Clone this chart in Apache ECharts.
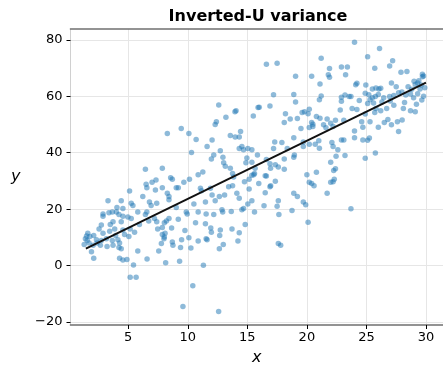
<!DOCTYPE html>
<html>
<head>
<meta charset="utf-8">
<script src="https://cdn.jsdelivr.net/npm/echarts@6/dist/echarts.min.js"></script>
<style>
  html, body { margin: 0; padding: 0; background: #ffffff; }
  #chart { width: 443px; height: 371px; }
</style>
</head>
<body>
<div id="chart"></div>
<script>
// Scatter sample: x positions
const xs = [
  12.6, 13.2, 13.96, 14.05, 15.5, 15.9, 12.3, 12.4, 9.45,
  16.6, 17.5, 21.2, 19.05, 20.4, 21.9, 22.9, 23.4, 23.25, 21.8, 21.9, 21.1, 17.2, 18.9, 21.2, 21.05, 19.05, 16.0, 16.9,
  22.9, 23.2, 22.9, 23.55, 22.8, 18.2, 19.6, 19.8, 20.1, 20.2, 18.6, 19.2, 18.1, 20.8, 21.1, 21.7, 22.4, 20.4, 20.5,
  20.2, 20.5, 21.4, 22.0, 22.2, 21.6, 19.5, 23.1,
  24.0, 26.1, 25.1, 27.2, 26.95, 25.7, 27.9, 28.4, 29.7, 29.8, 29.7, 27.1, 24.1, 24.2, 27.5, 28.5, 29.0, 29.1, 29.3,
  29.6, 29.4, 24.95, 25.5, 25.8, 26.05, 26.2, 23.7, 24.9, 25.2, 25.5, 25.3, 25.75, 26.0, 26.45, 26.95, 27.3, 27.7,
  27.98, 28.3, 28.7, 28.96, 29.3, 29.5, 29.65, 23.8, 24.2, 25.1, 25.6, 25.8, 26.2, 26.7, 27.3, 28.1, 28.7, 29.1,
  24.9, 25.7, 24.6, 25.3, 26.5, 26.8, 27.6, 28.0, 27.1, 26.0, 24.7,
  28.8, 29.9, 27.0, 28.2, 26.3, 29.8, 24.4, 29.2,
  24.0, 24.0, 24.7, 25.1, 25.25, 27.7, 25.75, 24.9, 23.7,
  17.3, 17.9, 18.9, 19.7, 19.7, 20.2, 20.7, 21.0, 21.05, 22.1, 22.2, 22.9, 23.1, 17.2, 18.35, 18.95, 18.9, 18.1,
  15.85, 16.6, 16.9, 16.95, 17.35, 17.6, 18.1, 15.6, 16.5, 16.6, 20.0, 20.8, 20.2, 20.4, 20.6, 22.45, 22.6, 23.2,
  22.0, 22.4, 22.25, 22.3, 22.2, 22.0, 16.96, 16.9, 17.35, 15.96, 16.5, 18.9, 19.2, 17.6, 17.5, 16.4, 18.75, 19.7,
  19.9, 17.65, 21.7, 15.6, 20.1,
  17.6, 17.8,
  8.28, 10.09, 10.7, 13.57, 13.98, 14.32, 14.43, 12.04, 11.62, 10.31, 12.73, 12.18, 11.98, 12.95, 13.01, 13.15,
  13.57, 13.76, 14.54, 14.32, 14.68, 15.04, 15.38, 14.96, 14.88, 15.38, 7.86, 10.14, 10.87, 11.26, 8.56, 8.70, 9.03,
  9.20, 9.67, 7.86, 8.28, 8.42, 8.42, 11.06, 11.15, 11.9, 12.04, 11.48, 12.3, 12.65, 13.09, 13.43, 13.76, 13.85,
  14.12, 14.32, 15.15, 15.38, 15.65, 15.15, 14.76, 15.54, 9.87, 9.95, 10.51, 10.87, 11.54, 12.18, 12.87, 12.93,
  13.65, 14.54, 14.68, 15.04, 15.38, 9.03, 9.2, 8.2, 8.42, 10.65, 11.48, 14.82, 7.86,
  7.86, 8.09, 8.0, 8.7, 8.75, 8.64, 9.76, 9.48, 9.39, 10.09, 10.26, 10.87, 11.54, 11.62, 11.93, 11.98, 12.73, 12.68,
  12.98, 12.65, 13.71, 14.32, 14.21, 8.14, 9.31, 11.31, 10.42, 9.59, 12.59,
  6.44, 6.5, 7.0, 7.33, 6.56, 5.11, 6.22, 7.28, 6.78, 6.92, 7.39, 5.25, 5.39, 4.41, 3.3, 4.05, 4.55, 4.0, 2.88,
  2.88, 3.38, 3.66, 4.22, 4.55, 4.97, 5.25, 5.8, 6.44, 6.56, 6.72, 7.2, 7.39, 4.41, 3.72, 3.49, 2.74, 5.94, 8.03,
  2.55, 2.88, 3.44, 3.86, 4.55, 5.16, 5.53, 1.77, 2.1, 1.55, 1.71, 2.33, 2.74, 3.16, 3.66, 3.94, 4.13, 4.27, 4.69,
  5.05, 3.72, 3.22, 4.22, 4.41, 2.66, 2.38, 2.05, 1.91, 2.1, 4.27, 4.55, 4.89, 5.8, 5.44, 5.16, 5.66, 6.58, 7.56,
  7.78, 8.03, 7.47, 1.4, 1.5, 1.3, 1.6
];

// Scatter sample: y values
const ys = [
  56.9, 52.6, 54.5, 54.9, 53.0, 56.0, 50.0, 51.0, 48.6,
  71.3, 71.7, 73.5, 67.1, 67.1, 69.8, 70.4, 70.4, 67.6, 67.6, 66.7, 64.3, 60.5, 60.6, 60.1, 58.8, 58.0, 56.1, 56.5,
  59.6, 60.4, 58.2, 59.9, 55.1, 53.8, 54.2, 54.5, 53.8, 55.4, 51.9, 52.1, 50.7, 52.8, 52.2, 51.9, 51.5, 50.7, 50.1,
  48.9, 49.3, 49.9, 50.4, 49.3, 48.8, 48.6, 51.5,
  79.1, 76.9, 74.0, 72.6, 70.7, 69.9, 68.5, 68.8, 67.8, 67.2, 66.9, 64.7, 64.1, 64.6, 63.4, 63.4, 65.3, 64.2, 64.7,
  64.0, 65.5, 64.0, 62.6, 62.96, 62.6, 62.85, 59.9, 61.1, 60.5, 59.5, 58.8, 59.9, 60.6, 59.5, 59.9, 60.3, 61.2,
  61.5, 60.4, 60.8, 59.5, 60.9, 62.6, 58.7, 55.7, 55.3, 57.4, 57.6, 55.7, 54.9, 55.7, 56.8, 55.7, 54.9, 54.5,
  53.7, 54.2, 51.0, 51.0, 50.7, 51.8, 51.0, 51.6, 49.9, 49.0, 49.0,
  62.5, 63.0, 58.3, 57.8, 58.0, 60.0, 58.5, 57.2,
  47.7, 45.3, 44.5, 44.4, 45.2, 47.5, 39.9, 38.0, 20.1,
  43.8, 43.6, 45.3, 43.8, 42.2, 43.0, 43.0, 44.2, 41.6, 43.6, 42.2, 44.5, 44.5, 41.5, 41.5, 39.2, 38.4, 37.8,
  39.2, 37.6, 36.1, 34.5, 35.7, 34.9, 34.1, 32.6, 31.8, 31.7, 32.2, 33.1, 29.5, 29.1, 28.3, 38.7, 41.0, 39.0,
  36.6, 34.3, 33.7, 30.6, 29.7, 29.5, 28.3, 27.9, 29.9, 29.1, 25.8, 25.6, 24.5, 23.0, 21.0, 21.2, 19.5, 22.5,
  21.6, 18.1, 25.6, 19.0, 15.4,
  7.8, 7.2,
  46.8, 46.8, 44.7, 46.1, 45.6, 45.6, 47.5, 44.5, 42.2, 40.1, 40.7, 39.2, 37.8, 38.4, 36.4, 35.2,
  34.5, 32.6, 42.2, 41.5, 41.0, 41.5, 41.0, 38.1, 36.4, 36.6, 34.5, 30.6, 32.2, 33.2, 31.1, 30.6, 27.6,
  27.6, 29.5, 27.6, 25.6, 24.5, 23.3, 27.4, 26.5, 27.4, 25.0, 22.5, 23.0, 24.5, 25.0, 27.9, 28.3, 31.4,
  25.6, 23.9, 27.1, 32.0, 34.5, 30.6, 29.7, 32.2, 19.0, 18.3, 21.8, 19.0, 18.3, 18.1, 19.8, 19.0,
  19.2, 19.8, 20.2, 21.8, 23.0, 20.6, 16.4, 15.8, 16.7, 15.2, 14.8, 14.6, 13.5,
  11.0, 11.5, 9.5, 8.4, 7.2, 13.3, 12.4, 9.2, 6.4, 9.9, 6.2, 8.7, 9.5, 9.2, 13.3, 11.8, 12.6, 10.7,
  7.5, 6.0, 13.0, 11.6, 8.7, 1.0, 1.5, 0.1, -7.1, -14.5, -16.3,
  34.1, 28.8, 29.5, 30.3, 27.6, 26.4, 24.5, 26.8, 22.5, 21.3, 22.1, 22.1, 21.3, 23.0, 23.0, 20.6, 20.2, 19.0, 18.3,
  17.5, 18.7, 19.0, 18.1, 17.5, 17.2, 16.7, 19.0, 18.1, 19.0, 15.8, 16.7, 15.5, 15.5, 15.5, 14.6, 14.4, 14.6, 15.2,
  13.0, 11.5, 12.2, 13.0, 12.6, 13.0, 11.8, 10.3, 10.7, 8.9, 8.0, 9.2, 8.9, 9.5, 8.9, 10.7, 9.2, 8.0, 11.0,
  10.3, 7.2, 6.8, 6.4, 6.0, 7.2, 8.0, 7.2, 4.9, 2.6, 2.6, 2.0, 2.2, 5.2, 0.2, -4.1, -4.1, 2.3, 5.2,
  7.8, 10.1, 13.0, 9.5, 10.5, 7.5, 11.5
];

// Least-squares fit line endpoints
const fitX = [1.44, 30.0];
const fitY = [6.0, 64.8];

// Tick positions
const xTicks = [5, 10, 15, 20, 25, 30];
const yTicks = [-20, 0, 20, 40, 60, 80];

const chartTitle = 'Inverted-U variance';
const xName = 'x';
const yName = 'y';

const points = xs.map((x, i) => [x, ys[i]]);
const fitLine = fitX.map((x, i) => [x, fitY[i]]);

const FONT = 'DejaVu Sans';
const spineStyle = { color: '#707070', width: 1.6 };
const gridStyle = { color: '#e6e6e6', width: 1 };

const chart = echarts.init(document.getElementById('chart'), null, { renderer: 'canvas' });

chart.setOption({
  animation: false,
  backgroundColor: '#ffffff',
  title: {
    text: chartTitle,
    left: 258,
    top: 9,
    padding: 0,
    textAlign: 'center',
    textStyle: { fontFamily: FONT, fontSize: 16, fontWeight: 'bold', color: '#000000' }
  },
  grid: { left: 70.5, top: 29, width: 375, height: 302, containLabel: false },
  xAxis: [
    {
      type: 'value',
      position: 'bottom',
      min: 0.15,
      max: 31.43,
      name: xName,
      nameLocation: 'middle',
      nameGap: 25,
      nameTextStyle: { fontFamily: FONT, fontSize: 16, fontStyle: 'italic', color: '#000000' },
      axisLine: { show: true, onZero: false, lineStyle: spineStyle },
      axisTick: { show: true, inside: false, length: 4, customValues: xTicks, lineStyle: { color: '#000000', width: 1 } },
      axisLabel: { show: true, customValues: xTicks, margin: 6, fontFamily: FONT, fontSize: 13, color: '#000000' },
      splitLine: { show: true, lineStyle: gridStyle }
    },
    {
      type: 'value',
      position: 'top',
      min: 0.15,
      max: 31.43,
      axisLine: { show: true, onZero: false, lineStyle: spineStyle },
      axisTick: { show: false },
      axisLabel: { show: false },
      splitLine: { show: false }
    }
  ],
  yAxis: [
    {
      type: 'value',
      position: 'left',
      min: -21.04,
      max: 83.82,
      name: yName,
      nameLocation: 'middle',
      nameRotate: 0,
      nameGap: 50,
      nameTextStyle: { fontFamily: FONT, fontSize: 16, fontStyle: 'italic', color: '#000000' },
      axisLine: { show: true, onZero: false, lineStyle: { color: '#d0d0d0', width: 1 } },
      axisTick: { show: true, inside: false, length: 4, customValues: yTicks, lineStyle: { color: '#000000', width: 1 } },
      axisLabel: {
        show: true,
        customValues: yTicks,
        margin: 8,
        fontFamily: FONT,
        fontSize: 13,
        color: '#000000',
        formatter: v => (v < 0 ? '\u2212' + Math.abs(v) : String(v))
      },
      splitLine: { show: true, lineStyle: gridStyle }
    }
  ],
  series: [
    {
      type: 'scatter',
      xAxisIndex: 0,
      yAxisIndex: 0,
      data: points,
      symbol: 'circle',
      symbolSize: 5.5,
      itemStyle: { color: 'rgba(31,119,180,0.63)', borderWidth: 0 },
      emphasis: { disabled: true },
      z: 2
    },
    {
      type: 'line',
      xAxisIndex: 0,
      yAxisIndex: 0,
      data: fitLine,
      symbol: 'none',
      lineStyle: { color: '#111111', width: 2 },
      emphasis: { disabled: true },
      z: 3
    }
  ]
});
</script>
</body>
</html>
